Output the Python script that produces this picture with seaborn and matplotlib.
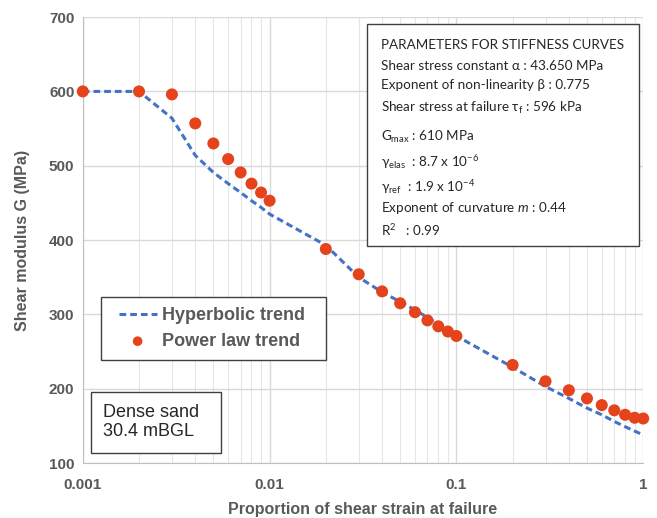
import seaborn as sns
import matplotlib.pyplot as plt
import pandas as pd
from matplotlib.ticker import LogLocator, FixedLocator, FuncFormatter, NullFormatter

# proportion of shear strain at failure
strain = [0.001, 0.002, 0.003, 0.004, 0.005, 0.006, 0.007, 0.008, 0.009,
          0.01, 0.02, 0.03, 0.04, 0.05, 0.06, 0.07, 0.08, 0.09,
          0.1, 0.2, 0.3, 0.4, 0.5, 0.6, 0.7, 0.8, 0.9, 1.0]
hyperbolic = [600, 600, 564, 514, 491, 476, 464, 453, 444,
              435, 393, 350, 330, 317, 306, 296, 287, 279,
              271, 229, 203, 187, 174, 165, 156, 149, 143, 138]
power_law = [600, 600, 596, 557, 530, 509, 491, 476, 464,
             453, 388, 354, 331, 315, 303, 292, 284, 277,
             271, 232, 210, 198, 187, 178, 171, 165, 161, 160]

params = ["PARAMETERS FOR STIFFNESS CURVES",
          "Shear stress constant α : 43.650 MPa",
          "Exponent of non-linearity β : 0.775",
          r"Shear stress at failure τ$_\mathregular{f}$ : 596 kPa",
          r"G$_\mathregular{max}$ : 610 MPa",
          r"γ$_\mathregular{elas}$  : 8.7 x 10$^\mathregular{-6}$",
          r"γ$_\mathregular{ref}$  : 1.9 x 10$^\mathregular{-4}$",
          r"Exponent of curvature $m$ : 0.44",
          r"R$^\mathregular{2}$   : 0.99"]

df = pd.DataFrame({'strain': strain, 'hyp': hyperbolic, 'pow': power_law})

sns.set_style('white')
plt.rcParams['font.family'] = ['Liberation Sans', 'DejaVu Sans']
plt.rcParams['mathtext.fontset'] = 'custom'
plt.rcParams['mathtext.rm'] = 'Lato'
plt.rcParams['mathtext.it'] = 'Lato:italic'

gray = '#595959'
fig = plt.figure(figsize=(6.57, 5.18), dpi=100)
ax = fig.add_axes([0.126, 0.106, 0.853, 0.861])

sns.lineplot(data=df, x='strain', y='hyp', ax=ax, color='#4472C4', lw=2.2,
             dashes=False, linestyle=(0, (2.2, 1.3)), label='Hyperbolic trend')
sns.scatterplot(data=df, x='strain', y='pow', ax=ax, color='#E5431B', s=75,
                edgecolor='none', label='Power law trend', zorder=5, clip_on=False)

ax.set_xscale('log')
ax.set_xlim(0.001, 1)
ax.set_ylim(100, 700)
ax.xaxis.set_major_locator(FixedLocator([0.001, 0.01, 0.1, 1]))
ax.xaxis.set_major_formatter(FuncFormatter(lambda v, p: f'{v:g}'))
ax.xaxis.set_minor_locator(LogLocator(base=10, subs=range(2, 10)))
ax.xaxis.set_minor_formatter(NullFormatter())
ax.set_yticks(range(100, 701, 100))
ax.grid(True, which='major', color='#D9D9D9', lw=1)
ax.grid(True, which='minor', axis='x', color='#E6E6E6', lw=0.8)
ax.set_axisbelow(True)
for s in ['top', 'right']:
    ax.spines[s].set_visible(False)
for s in ['left', 'bottom']:
    ax.spines[s].set_color('#BFBFBF')
ax.tick_params(axis='x', length=0, labelsize=11, labelcolor=gray, pad=11)
ax.tick_params(axis='y', length=0, labelsize=11, labelcolor=gray, pad=6)
for t in ax.get_xticklabels() + ax.get_yticklabels():
    t.set_fontweight('bold')
ax.set_xlabel('Proportion of shear strain at failure', fontsize=11.5,
              fontweight='bold', color=gray, labelpad=7)
ax.set_ylabel('Shear modulus G (MPa)', fontsize=11.5, fontweight='bold',
              color=gray, labelpad=14)

# legend with a hand-drawn frame
ax.add_patch(plt.Rectangle((0.032, 0.231), 0.402, 0.141, transform=ax.transAxes,
                           fc='white', ec='#404040', lw=1.0, zorder=6))
leg = ax.legend(loc='center left', bbox_to_anchor=(0.064, 0.302), frameon=False,
                fontsize=13, handlelength=2.1, borderpad=0, labelspacing=0.5,
                handletextpad=0.3, borderaxespad=0, markerscale=0.8)
leg.set_zorder(7)
for t in leg.get_texts():
    t.set_fontweight('bold')
    t.set_color(gray)

ax.add_patch(plt.Rectangle((0.014, 0.022), 0.232, 0.137, transform=ax.transAxes,
                           fc='white', ec='#404040', lw=1.0, zorder=6))
ax.text(0.036, 0.092, 'Dense sand\n30.4 mBGL', transform=ax.transAxes,
        fontsize=13, va='center', ha='left', linespacing=1.1, zorder=7)

# parameters box
box = plt.Rectangle((367 / 657, 1 - 246 / 518), 272 / 657, 222 / 518,
                    transform=fig.transFigure, fc='white', ec='#404040', lw=1.0,
                    zorder=6)
fig.add_artist(box)
rows = [45, 66, 85, 108, 137, 162, 187, 208, 230]
for y, txt in zip(rows, params):
    fig.text(381 / 657, 1 - y / 518, txt, fontsize=9.7, va='center', ha='left',
             family=['Lato', 'DejaVu Sans'], color='#262626', zorder=7)

fig.savefig('out.png', dpi=100)
